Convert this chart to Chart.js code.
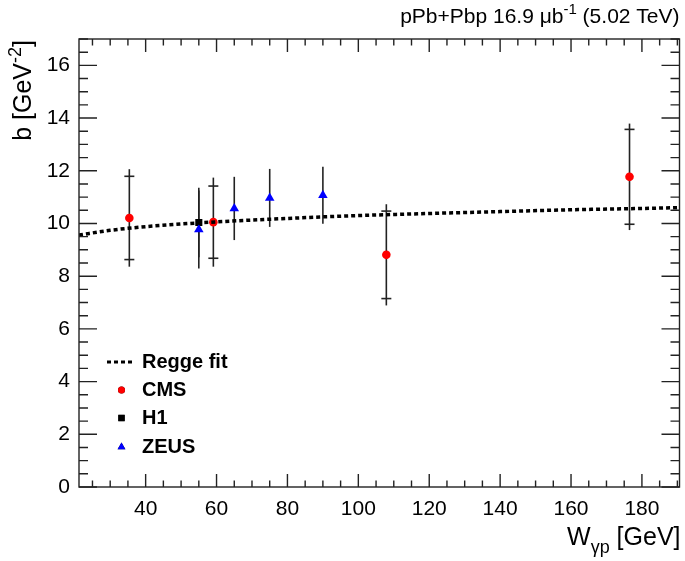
<!DOCTYPE html>
<html>
<head>
<meta charset="utf-8">
<script src="https://cdn.jsdelivr.net/npm/chart.js@4.4.0/dist/chart.umd.min.js"></script>
<style>
  html, body { margin: 0; padding: 0; background: #fff; }
  canvas { display: block; }
</style>
</head>
<body>
<canvas id="myChart" width="685" height="561"></canvas>
<script>
// values
const fitW = [21.2, 30, 40, 50, 60, 70, 80, 90, 100, 120, 140, 160, 180, 190.6];
const fitB = [9.56, 9.74, 9.88, 9.98, 10.06, 10.13, 10.19, 10.25, 10.30, 10.38, 10.45, 10.52, 10.57, 10.60];

const cmsW = [35.4, 59.1, 107.9, 176.5];
const cmsB = [10.21, 10.05, 8.81, 11.77];
const cmsErrStat = [1.58, 1.37, 1.66, 1.80];
const cmsErrTot = [1.85, 1.69, 1.92, 2.02];

const h1W = [55];
const h1B = [10.04];
const h1Err = [1.32];

const zeusW = [55, 65, 75, 90];
const zeusB = [9.77, 10.57, 10.97, 11.07];
const zeusErr = [1.48, 1.20, 1.10, 1.08];

const xMajor = [40, 60, 80, 100, 120, 140, 160, 180];
const yMajor = [0, 2, 4, 6, 8, 10, 12, 14, 16];

const FONT = '"Liberation Sans", Arial, sans-serif';

const pts = (xs, ys) => xs.map((x, i) => ({x: x, y: ys[i]}));

// draw a string made of pieces (plain / sup / sub), right aligned at x
function richText(ctx, parts, x, y, size) {
    let widths = parts.map(p => {
        ctx.font = (p.sup || p.sub ? Math.round(size * 0.7) : size) + 'px ' + FONT;
        return ctx.measureText(p.t).width;
    });
    let cx = x - widths.reduce((a, b) => a + b, 0);
    parts.forEach((p, i) => {
        ctx.font = (p.sup || p.sub ? Math.round(size * 0.7) : size) + 'px ' + FONT;
        let dy = p.sup ? -size * 0.42 : (p.sub ? size * 0.3 : 0);
        ctx.fillText(p.t, cx, y + dy);
        cx += widths[i];
    });
}

const framePlugin = {
    id: 'frame',
    beforeDatasetsDraw(chart) {
        const {ctx, scales: {x, y}} = chart;
        ctx.save();
        ctx.strokeStyle = '#222';
        ctx.lineWidth = 1.6;
        // error bars
        const bar = (w, b, lo, hi, cap) => {
            let px = x.getPixelForValue(w);
            ctx.beginPath();
            ctx.moveTo(px, y.getPixelForValue(b - lo));
            ctx.lineTo(px, y.getPixelForValue(b + hi));
            ctx.stroke();
            if (cap !== undefined) {
                [b - cap, b + cap].forEach(v => {
                    let py = y.getPixelForValue(v);
                    ctx.beginPath();
                    ctx.moveTo(px - 5, py);
                    ctx.lineTo(px + 5, py);
                    ctx.stroke();
                });
            }
        };
        zeusW.forEach((w, i) => bar(w, zeusB[i], zeusErr[i], zeusErr[i]));
        h1W.forEach((w, i) => bar(w, h1B[i], h1Err[i], h1Err[i]));
        cmsW.forEach((w, i) => bar(w, cmsB[i], cmsErrTot[i], cmsErrTot[i], cmsErrStat[i]));
        ctx.restore();
    },
    afterDraw(chart) {
        const {ctx, chartArea: a, scales: {x, y}} = chart;
        ctx.save();
        ctx.strokeStyle = '#222';
        ctx.lineWidth = 1.4;
        ctx.strokeRect(a.left, a.top, a.right - a.left, a.bottom - a.top);
        ctx.beginPath();
        // x ticks, bottom and top, inward
        for (let v = Math.ceil(x.min / 5) * 5; v <= x.max; v += 5) {
            let px = x.getPixelForValue(v);
            let len = v % 20 === 0 ? 13 : 6.5;
            ctx.moveTo(px, a.bottom); ctx.lineTo(px, a.bottom - len);
            ctx.moveTo(px, a.top); ctx.lineTo(px, a.top + len);
        }
        // y ticks, left and right
        for (let v = 0; v <= y.max + 1e-9; v += 0.5) {
            let py = y.getPixelForValue(v);
            let len = v % 2 === 0 ? 18 : 9;
            ctx.moveTo(a.left, py); ctx.lineTo(a.left + len, py);
            ctx.moveTo(a.right, py); ctx.lineTo(a.right - len, py);
        }
        ctx.stroke();

        // legend
        ctx.fillStyle = '#000';
        ctx.textBaseline = 'middle';
        ctx.textAlign = 'left';
        ctx.font = 'bold 20px ' + FONT;
        const lx = a.left + 28, tx = a.left + 63;
        const rows = [a.bottom - 125, a.bottom - 97, a.bottom - 69, a.bottom - 40];
        ctx.save();
        ctx.lineWidth = 3;
        ctx.strokeStyle = '#000';
        ctx.setLineDash([4, 3]);
        ctx.beginPath();
        ctx.moveTo(lx, rows[0]); ctx.lineTo(lx + 28, rows[0]);
        ctx.stroke();
        ctx.restore();
        const mx = lx + 14.5;
        chart.data.datasets.forEach((ds, i) => {
            if (i > 0) {
                Chart.helpers.drawPoint(ctx, {
                    pointStyle: ds.pointStyle,
                    radius: ds.legendRadius,
                    borderWidth: 0
                }, mx, rows[i]);
                ctx.fillStyle = ds.backgroundColor;
                ctx.fill();
            }
            ctx.fillStyle = '#000';
            ctx.fillText(ds.label, tx, rows[i]);
        });

        // titles
        ctx.textBaseline = 'alphabetic';
        ctx.fillStyle = '#000';
        richText(ctx, [{t: 'pPb+Pbp 16.9 \u03bcb'}, {t: '-1', sup: true}, {t: ' (5.02 TeV)'}], a.right, 23, 21);
        richText(ctx, [{t: 'W'}, {t: '\u03b3p', sub: true}, {t: ' [GeV]'}], a.right + 1, 545, 25);
        ctx.save();
        ctx.translate(31, a.top + 1);
        ctx.rotate(-Math.PI / 2);
        richText(ctx, [{t: 'b [GeV'}, {t: '-2', sup: true}, {t: ']'}], 0, 0, 25);
        ctx.restore();
        ctx.restore();
    }
};

new Chart(document.getElementById('myChart'), {
    type: 'scatter',
    data: {
        datasets: [{
            label: 'Regge fit',
            type: 'line',
            data: pts(fitW, fitB),
            borderColor: '#000',
            borderWidth: 3.5,
            borderDash: [4, 3],
            pointRadius: 0,
            cubicInterpolationMode: 'monotone',
            fill: false,
            order: 0
        }, {
            label: 'CMS',
            data: pts(cmsW, cmsB),
            pointStyle: 'circle',
            pointRadius: 4.3,
            legendRadius: 3.5,
            backgroundColor: '#ff0000',
            borderWidth: 0,
            order: 1
        }, {
            label: 'H1',
            data: pts(h1W, h1B),
            pointStyle: 'rect',
            pointRadius: 5,
            legendRadius: 4.5,
            backgroundColor: '#000000',
            borderWidth: 0,
            order: 2
        }, {
            label: 'ZEUS',
            data: pts(zeusW, zeusB),
            pointStyle: 'triangle',
            pointRadius: 5.5,
            legendRadius: 4.5,
            backgroundColor: '#0000ff',
            borderWidth: 0,
            order: 1
        }]
    },
    options: {
        responsive: false,
        animation: false,
        events: [],
        layout: { padding: { top: 39, right: 2, left: 0, bottom: 0 } },
        plugins: {
            legend: { display: false },
            tooltip: { enabled: false }
        },
        scales: {
            x: {
                type: 'linear',
                min: 21.2,
                max: 190.6,
                afterFit: s => { s.height = 74; },
                afterBuildTicks: s => { s.ticks = xMajor.map(v => ({value: v})); },
                grid: { display: false, drawTicks: false },
                border: { display: false },
                ticks: { color: '#000', padding: 10, maxRotation: 0, autoSkip: false, font: { family: FONT, size: 21 } }
            },
            y: {
                type: 'linear',
                min: 0,
                max: 17,
                afterFit: s => { s.width = 79; },
                afterBuildTicks: s => { s.ticks = yMajor.map(v => ({value: v})); },
                grid: { display: false, drawTicks: false },
                border: { display: false },
                ticks: { color: '#000', padding: 9, font: { family: FONT, size: 21 } }
            }
        }
    },
    plugins: [framePlugin]
});
</script>
</body>
</html>
